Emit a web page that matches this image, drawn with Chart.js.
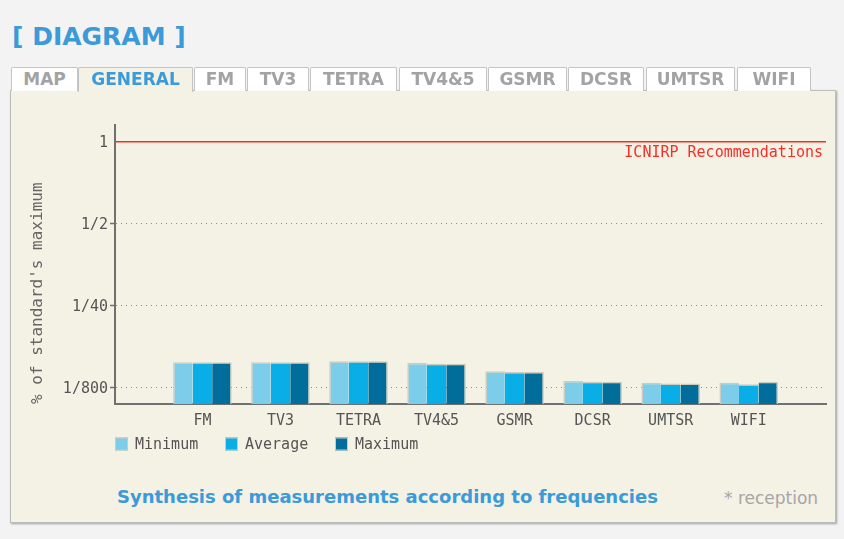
<!DOCTYPE html>
<html>
<head>
<meta charset="utf-8">
<script src="https://cdn.jsdelivr.net/npm/chart.js@4"></script>
<style>
body{margin:0;background:#f3f3f3;width:844px;height:539px;position:relative;overflow:hidden;font-family:"DejaVu Sans",Verdana,sans-serif;}
#title{position:absolute;left:12px;top:22px;font-size:25px;font-weight:bold;color:#3b9ad8;line-height:30px;white-space:pre;}
.tab{position:absolute;top:67px;height:24px;box-sizing:border-box;background:#fff;border:1px solid #c4c4c4;border-bottom:none;border-radius:2px 2px 0 0;text-align:center;font-size:17px;font-weight:bold;color:#a3a3a3;line-height:23px;z-index:3;}
.tab.active{background:#f4f1e5;color:#3b9ad8;height:25px;}
#panel{position:absolute;left:10px;top:90px;width:826px;height:433px;box-sizing:border-box;background:#f4f1e5;border:1px solid #bcbcbc;box-shadow:1px 1px 2px rgba(0,0,0,.35);}
#chartBox{position:absolute;left:10px;top:91px;width:826px;height:390px;z-index:2;}
#caption{position:absolute;left:117px;top:486px;font-size:18px;font-weight:bold;color:#3b9ad8;z-index:2;}
#note{position:absolute;left:724px;top:488px;font-size:17px;color:#a6a6a6;z-index:2;}
</style>
</head>
<body>
<div id="title">[ DIAGRAM ]</div>
<div id="panel"></div>
<div class="tab" style="left:11px;width:67px">MAP</div>
<div class="tab active" style="left:78px;width:115px">GENERAL</div>
<div class="tab" style="left:194px;width:52px">FM</div>
<div class="tab" style="left:247px;width:62px">TV3</div>
<div class="tab" style="left:310px;width:87px">TETRA</div>
<div class="tab" style="left:399px;width:88px">TV4&amp;5</div>
<div class="tab" style="left:488px;width:79px">GSMR</div>
<div class="tab" style="left:568px;width:76px">DCSR</div>
<div class="tab" style="left:646px;width:89px">UMTSR</div>
<div class="tab" style="left:737px;width:74px">WIFI</div>
<div id="chartBox"><canvas id="chart"></canvas></div>
<div id="caption">Synthesis of measurements according to frequencies</div>
<div id="note">* reception</div>
<script>
// ===== data =====
const categories = ["FM", "TV3", "TETRA", "TV4&5", "GSMR", "DCSR", "UMTSR", "WIFI"];
// bar heights in axis steps: 0 = 1/800, 1 = 1/40, 2 = 1/2, 3 = 1
const minimumValues = [0.31, 0.31, 0.32, 0.30, 0.20, 0.08, 0.06, 0.06];
const averageValues = [0.31, 0.31, 0.32, 0.29, 0.19, 0.07, 0.05, 0.04];
const maximumValues = [0.31, 0.31, 0.32, 0.29, 0.19, 0.07, 0.05, 0.07];
const yTickLabels = ["1/800", "1/40", "1/2", "1"];
const seriesNames = ["Minimum", "Average", "Maximum"];
const limitLabel = "ICNIRP Recommendations";

const colors = ["#7ccde9", "#0aaee6", "#006d9b"];
const mono = "DejaVu Sans Mono";
const edge = "#cfcabb";

function points(vals){
  return categories.map((c, i) => ({x: i + 1, y: vals[i]}));
}

const seriesValues = [minimumValues, averageValues, maximumValues];
const borders = [{left:1.5, top:1.5}, {top:1.5}, {top:1.5, right:1.5}];

const datasets = seriesNames.map((name, i) => ({
  label: name,
  data: points(seriesValues[i]),
  backgroundColor: colors[i],
  borderColor: edge,
  borderWidth: borders[i],
  borderSkipped: false,
  base: -0.2,
  barPercentage: 1,
  categoryPercentage: 0.75
}));

// limit label + legend drawn on canvas
const overlay = {
  id: "overlay",
  afterDraw(chart){
    const {ctx, chartArea: a, scales: {y}} = chart;
    ctx.save();
    ctx.font = "15px '" + mono + "'";
    ctx.textBaseline = "middle";
    ctx.fillStyle = "#f3302a";
    ctx.textAlign = "right";
    ctx.fillText(limitLabel, a.right - 3, y.getPixelForValue(3) + 12);
    ctx.textAlign = "left";
    chart.data.datasets.forEach((ds, i) => {
      const lx = a.left + i * 110, ly = a.bottom + 40;
      ctx.fillStyle = ds.backgroundColor;
      ctx.fillRect(lx, ly - 6.5, 13, 13);
      ctx.strokeStyle = edge;
      ctx.lineWidth = 1;
      ctx.strokeRect(lx + 0.5, ly - 6, 12, 12);
      ctx.fillStyle = "#555";
      ctx.fillText(ds.label, lx + 20, ly + 1);
    });
    ctx.restore();
  }
};

const isTop = c => c.tick && c.tick.value === 3;

new Chart(document.getElementById("chart"), {
  type: "bar",
  data: {datasets},
  plugins: [overlay],
  options: {
    responsive: true,
    maintainAspectRatio: false,
    animation: false,
    layout: {padding: {top: 34, right: 10, left: 0, bottom: 0}},
    plugins: {legend: {display: false}, tooltip: {enabled: false}},
    scales: {
      x: {
        type: "linear",
        min: -0.12,
        max: 8.99,
        offset: false,
        z: 1,
        afterBuildTicks: s => { s.ticks = categories.map((c, i) => ({value: i + 1})); },
        afterFit: s => { s.height = 77; },
        grid: {display: false, drawTicks: false, offset: false},
        border: {display: true, color: "#707070", width: 2},
        ticks: {
          autoSkip: false, maxRotation: 0, padding: 8, color: "#555",
          font: {family: mono, size: 15},
          callback: v => categories[v - 1] || ""
        }
      },
      y: {
        min: -0.2,
        max: 3.2,
        afterBuildTicks: s => { s.ticks = yTickLabels.map((t, i) => ({value: i})); },
        afterFit: s => { s.width = 105; },
        grid: {
          color: c => isTop(c) ? "#f0312a" : "#8f8b82",
          lineWidth: c => isTop(c) ? 1.5 : 1,
          tickLength: 5,
          tickWidth: 1.5,
          tickColor: c => isTop(c) ? "rgba(0,0,0,0)" : "#707070"
        },
        border: {color: "#707070", width: 2, dash: c => isTop(c) ? [] : [1, 4]},
        ticks: {
          padding: 2, color: "#555", labelOffset: 2,
          font: {family: mono, size: 15},
          callback: v => yTickLabels[v]
        },
        title: {
          display: true,
          text: "% of standard's maximum",
          align: "start",
          color: "#666",
          font: {family: mono, size: 16},
          padding: {top: 18, bottom: 0}
        }
      }
    }
  }
});
</script>
</body>
</html>
